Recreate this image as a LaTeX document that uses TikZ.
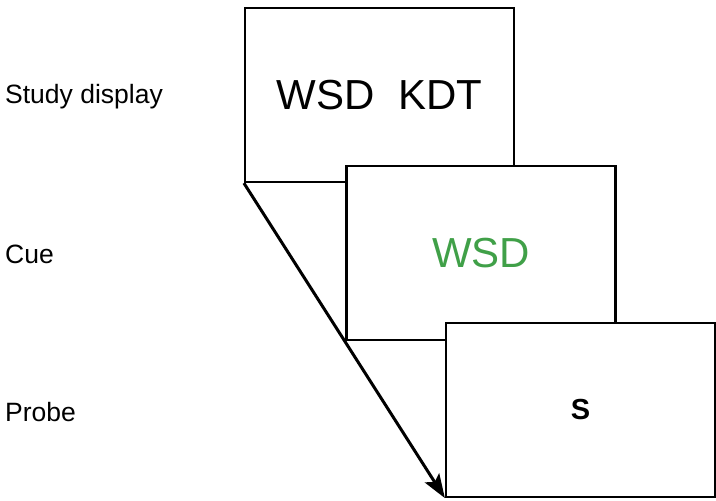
\documentclass[tikz,border=0pt]{standalone}
\usepackage{fontspec}
\setmainfont{Liberation Sans}
\usetikzlibrary{arrows.meta}
\definecolor{cuegreen}{RGB}{64,160,72}

\begin{document}
\begin{tikzpicture}[x=1pt,y=-1pt]

        \useasboundingbox (0,0) rectangle (716,501);

        \begin{scope}[every node/.style={anchor=base west, inner sep=0pt, font=\fontsize{26.5}{30}\selectfont}]
          \node (l1) at (5,103) {Study display};
          \node (l2) at (5,263) {Cue};
          \node (l3) at (5,421) {Probe};
        \end{scope}

        \begin{scope}[every node/.style={rectangle, draw, fill=white, line width=2.2pt,
            minimum width=269pt, minimum height=174pt, inner sep=0pt}]
          \node[font=\fontsize{42}{48}\selectfont] (study) at (379.5,95) {WSD\ \ KDT};
          \node[font=\fontsize{42}{48}\selectfont, text=cuegreen] (cue) at (481,253) {WSD};
          \node[font=\fontsize{29}{34}\selectfont\bfseries] (probe) at (580.5,410) {S};
        \end{scope}

        \draw[line width=3pt, -{Stealth[length=24pt,width=17pt,inset=5pt]}] (study.south west) -- (probe.south west);

      \end{tikzpicture}
\end{document}
